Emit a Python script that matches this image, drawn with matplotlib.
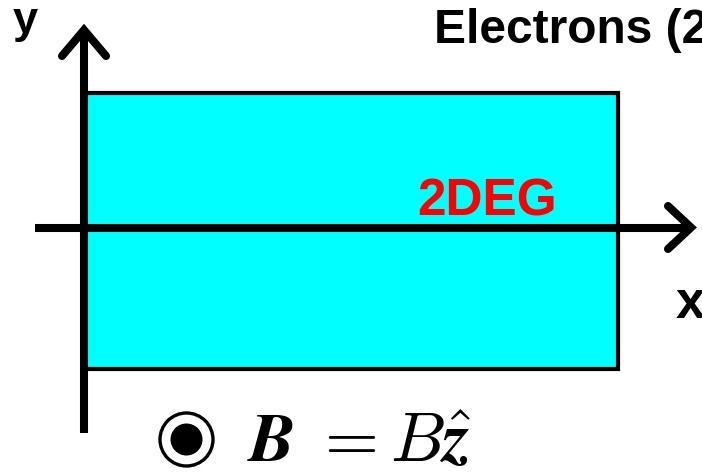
import matplotlib
matplotlib.use("Agg")
import matplotlib.pyplot as plt
from matplotlib.patches import Rectangle, Circle

# labels
title_text = "Electrons (2"
layer_text = "2DEG"
x_label = "x"
y_label = "y"
field_text = r"$\mathbfit{B}\;=B\hat{\mathbfit{z}}$"

plt.rcParams["mathtext.fontset"] = "cm"
sans = ["Liberation Sans", "DejaVu Sans"]

fig = plt.figure(figsize=(7.02, 4.72), dpi=100)
ax = fig.add_axes([0, 0, 1, 1])
ax.set_xlim(0, 702)
ax.set_ylim(472, 0)
ax.axis("off")

# sample
ax.add_patch(Rectangle((85, 93), 533, 276, facecolor="#00ffff",
                       edgecolor="black", linewidth=3, zorder=1))

# axes arrows
lw = 5.8
ax.plot([84, 84], [433, 32], color="black", lw=lw, solid_capstyle="butt", zorder=2)
ax.plot([62, 84, 106], [56, 30, 56], color="black", lw=lw,
        solid_capstyle="round", solid_joinstyle="miter", zorder=2)
ax.plot([35, 690], [227.5, 227.5], color="black", lw=lw, solid_capstyle="butt", zorder=2)
ax.plot([668, 691, 668], [206, 227.5, 249], color="black", lw=lw,
        solid_capstyle="round", solid_joinstyle="miter", zorder=2)

ax.text(13, 33.5, y_label, fontsize=32.5, fontweight="bold", family=sans,
        ha="left", va="baseline")
ax.text(676, 318, x_label, fontsize=38, fontweight="bold", family=sans,
        ha="left", va="baseline")
ax.text(434, 43, title_text, fontsize=34.5, fontweight="bold", family=sans,
        ha="left", va="baseline")
ax.text(417, 215, layer_text, fontsize=37, fontweight="bold", family=sans,
        color="red", ha="left", va="baseline", zorder=3)

# B field out of the page
ax.add_patch(Circle((186.5, 439.5), 26.5, facecolor="white", edgecolor="black",
                    linewidth=2.4, zorder=3))
ax.add_patch(Circle((186.5, 439.5), 16, facecolor="black", edgecolor="none", zorder=4))
ax.text(247, 462, field_text, fontsize=50, ha="left", va="baseline")

fig.savefig("out.png", dpi=100)
